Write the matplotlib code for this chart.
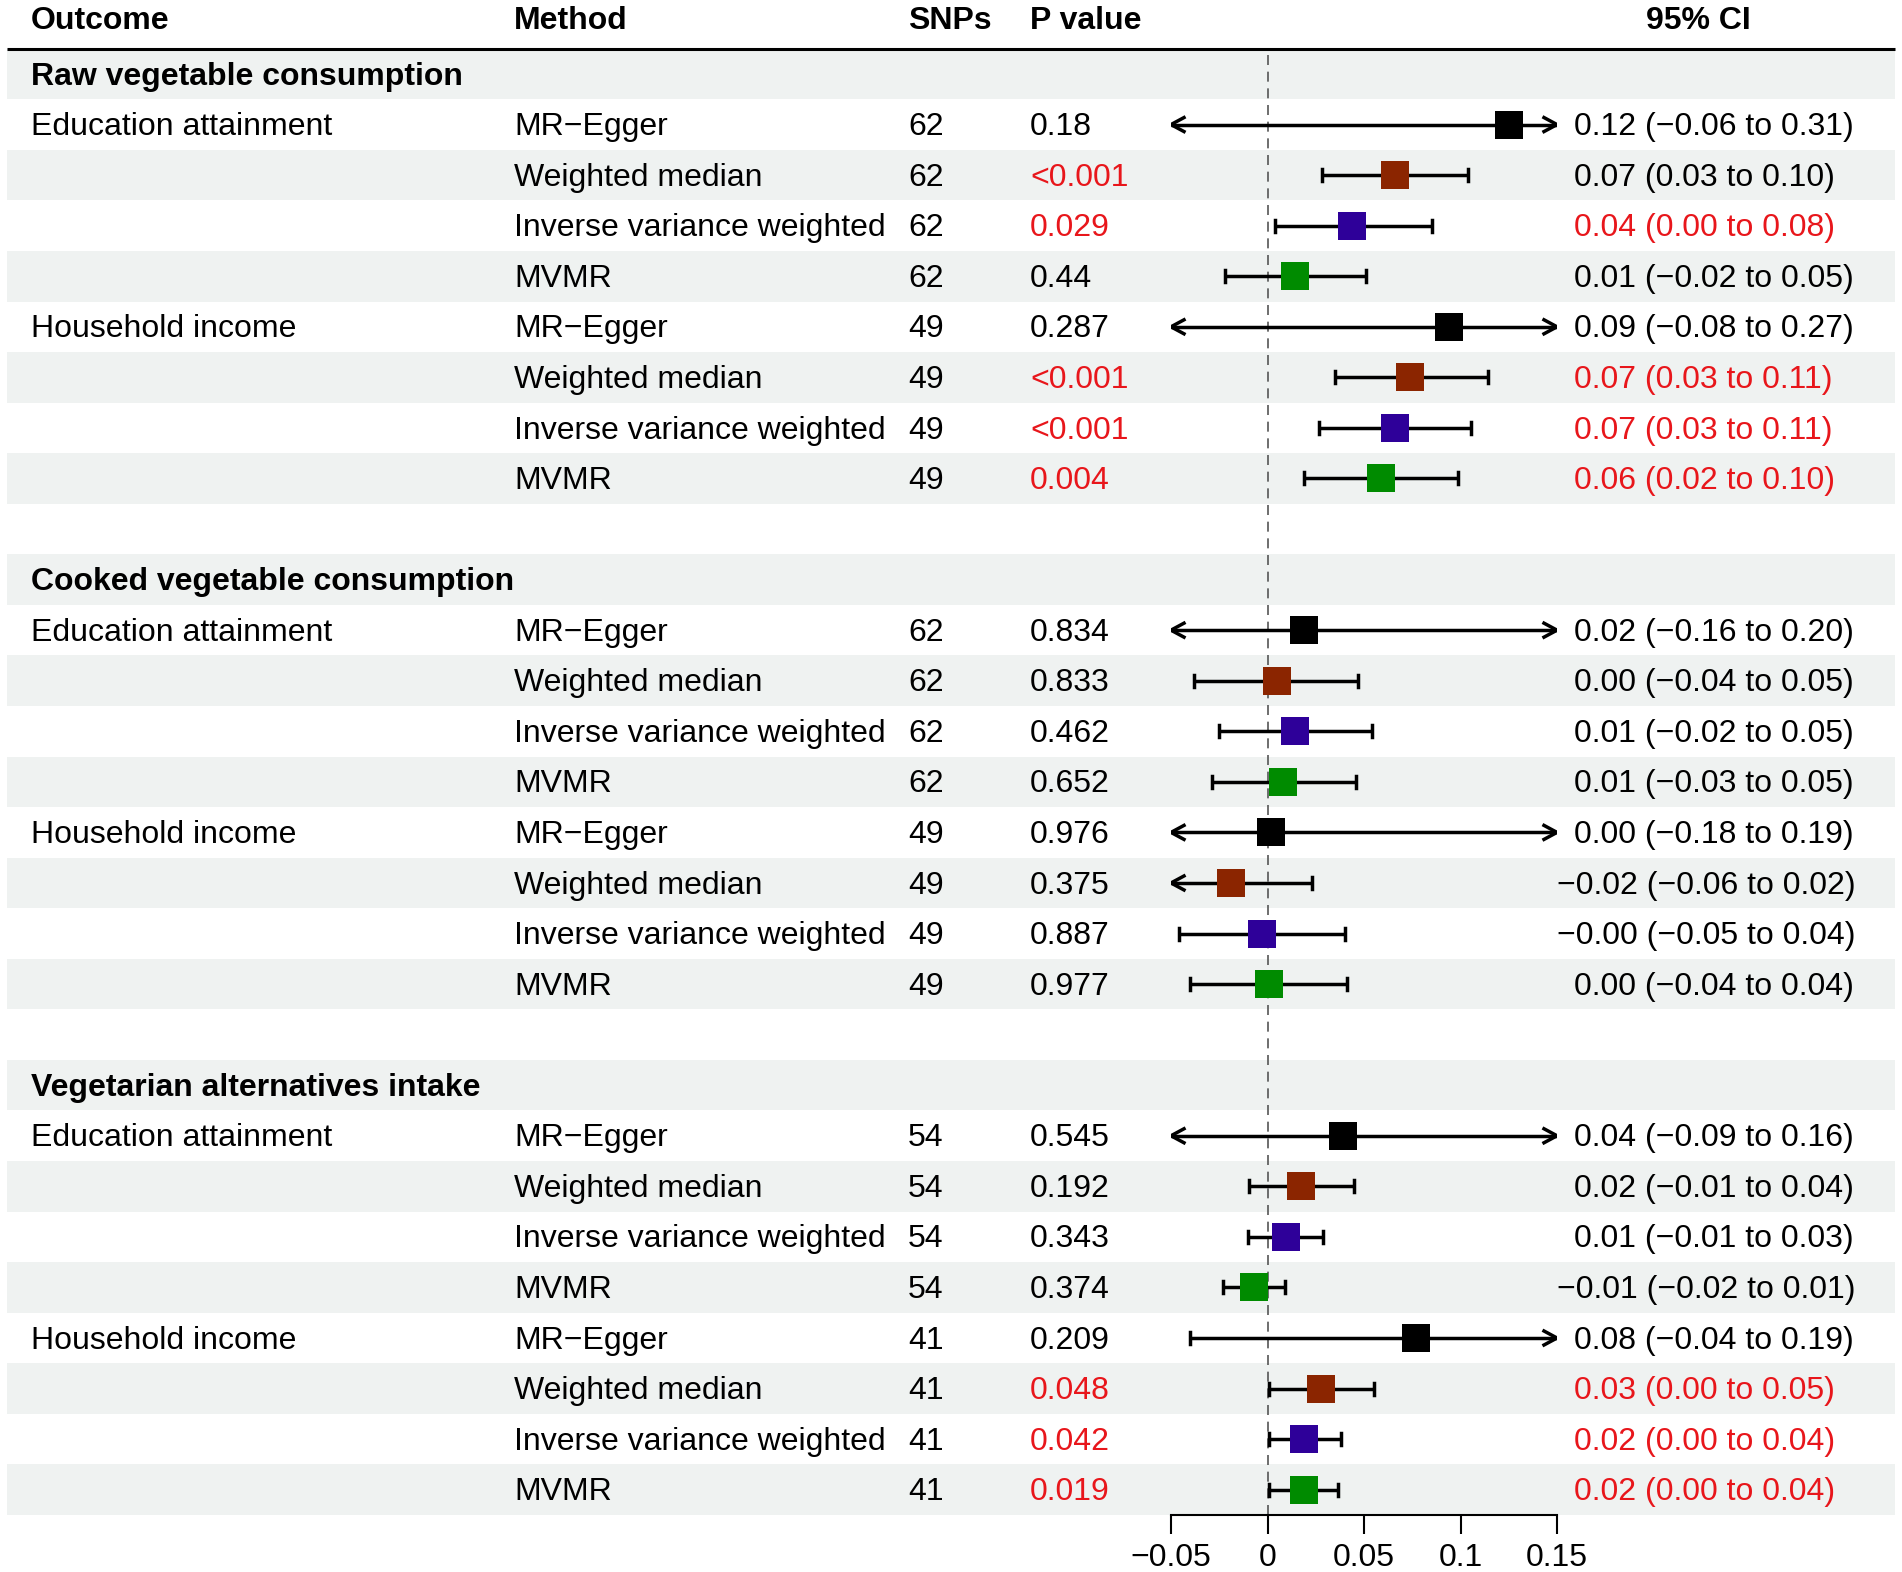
import matplotlib
matplotlib.use("Agg")
import matplotlib.pyplot as plt

plt.rcParams['font.family'] = ['Liberation Sans', 'DejaVu Sans']

# ---- table data ----
groups = ["Raw vegetable consumption", "Cooked vegetable consumption",
          "Vegetarian alternatives intake"]
outcomes = ["Education attainment", "Household income"]
methods = ["MR−Egger", "Weighted median", "Inverse variance weighted", "MVMR"]
method_colors = ["#000000", "#8B2500", "#2E0099", "#008B00"]

snps = [62, 62, 62, 62, 49, 49, 49, 49,
        62, 62, 62, 62, 49, 49, 49, 49,
        54, 54, 54, 54, 41, 41, 41, 41]

p_text = ["0.18", "<0.001", "0.029", "0.44", "0.287", "<0.001", "<0.001", "0.004",
          "0.834", "0.833", "0.462", "0.652", "0.976", "0.375", "0.887", "0.977",
          "0.545", "0.192", "0.343", "0.374", "0.209", "0.048", "0.042", "0.019"]
p_red = [0, 1, 1, 0, 0, 1, 1, 1,
         0, 0, 0, 0, 0, 0, 0, 0,
         0, 0, 0, 0, 0, 1, 1, 1]

ci_text = ["0.12 (−0.06 to 0.31)", "0.07 (0.03 to 0.10)", "0.04 (0.00 to 0.08)",
           "0.01 (−0.02 to 0.05)", "0.09 (−0.08 to 0.27)", "0.07 (0.03 to 0.11)",
           "0.07 (0.03 to 0.11)", "0.06 (0.02 to 0.10)",
           "0.02 (−0.16 to 0.20)", "0.00 (−0.04 to 0.05)", "0.01 (−0.02 to 0.05)",
           "0.01 (−0.03 to 0.05)", "0.00 (−0.18 to 0.19)", "−0.02 (−0.06 to 0.02)",
           "−0.00 (−0.05 to 0.04)", "0.00 (−0.04 to 0.04)",
           "0.04 (−0.09 to 0.16)", "0.02 (−0.01 to 0.04)", "0.01 (−0.01 to 0.03)",
           "−0.01 (−0.02 to 0.01)", "0.08 (−0.04 to 0.19)", "0.03 (0.00 to 0.05)",
           "0.02 (0.00 to 0.04)", "0.02 (0.00 to 0.04)"]
ci_red = [0, 0, 1, 0, 0, 1, 1, 1,
          0, 0, 0, 0, 0, 0, 0, 0,
          0, 0, 0, 0, 0, 1, 1, 1]

# point estimates and intervals as drawn
est = [0.125, 0.066, 0.044, 0.0145, 0.094, 0.074, 0.066, 0.0588,
       0.019, 0.005, 0.0145, 0.008, 0.002, -0.019, -0.003, 0.0006,
       0.039, 0.0176, 0.0094, -0.007, 0.077, 0.0277, 0.019, 0.019]
lo = [-0.06, 0.028, 0.004, -0.022, -0.08, 0.035, 0.0267, 0.019,
      -0.16, -0.038, -0.025, -0.029, -0.18, -0.06, -0.046, -0.040,
      -0.09, -0.0094, -0.010, -0.023, -0.040, 0.0006, 0.0006, 0.0006]
hi = [0.31, 0.104, 0.085, 0.051, 0.27, 0.114, 0.1056, 0.0986,
      0.20, 0.047, 0.054, 0.046, 0.19, 0.023, 0.040, 0.041,
      0.16, 0.0447, 0.029, 0.009, 0.19, 0.055, 0.038, 0.0365]

xticks = [-0.05, 0, 0.05, 0.1, 0.15]
xtick_labels = ["−0.05", "0", "0.05", "0.1", "0.15"]

# ---- layout (pixels) ----
W, H = 1902, 1572
row0, pitch = 74.0, 50.56
nrows = 29
band = "#EFF2F1"
red = "#E8161B"
fs = 23

fig = plt.figure(figsize=(W / 100, H / 100), dpi=100)

# background / table axes: x in pixels, y in row units
bg = fig.add_axes([0, 0, 1, 1])
bg.set_xlim(0, W)
bg.set_ylim((H - row0) / pitch, -row0 / pitch)
bg.axis("off")

for r in range(0, nrows, 2):
    bg.axhspan(r - 0.5, r + 0.5, xmin=7 / W, xmax=1895 / W, color=band, lw=0, zorder=0)

bg.plot([7, 1895], [-0.5, -0.5], color="black", lw=2.2, solid_capstyle="butt")

hy = (29 - row0) / pitch
bg.text(31, hy, "Outcome", fontsize=fs, fontweight="bold", va="baseline")
bg.text(514, hy, "Method", fontsize=fs, fontweight="bold", va="baseline")
bg.text(908, hy, "SNPs", fontsize=fs, fontweight="bold", va="baseline")
bg.text(1030, hy, "P value", fontsize=fs, fontweight="bold", va="baseline")
bg.text(1698, hy, "95% CI", fontsize=fs, fontweight="bold", va="baseline", ha="center")

base = 0.21  # baseline offset below row centre (rows)
rows = []
for g, name in enumerate(groups):
    bg.text(31, g * 10 + base, name, fontsize=fs, fontweight="bold", va="baseline")
    for k in range(8):
        rows.append(g * 10 + 1 + k)
    for j, oc in enumerate(outcomes):
        bg.text(31, g * 10 + 1 + 4 * j + base, oc, fontsize=fs, va="baseline")

for i, r in enumerate(rows):
    y = r + base
    bg.text(514, y, methods[i % 4], fontsize=fs, va="baseline")
    bg.text(908, y, str(snps[i]), fontsize=fs, va="baseline")
    bg.text(1030, y, p_text[i], fontsize=fs, va="baseline",
            color=red if p_red[i] else "black")
    cx = 1557 if ci_text[i].startswith("−") else 1574
    bg.text(cx, y, ci_text[i], fontsize=fs, va="baseline",
            color=red if ci_red[i] else "black")

# ---- forest axes ----
x0, x1 = 1171, 1557
top, bottom = row0 - 0.5 * pitch, row0 + 28.5 * pitch
ax = fig.add_axes([x0 / W, 1 - bottom / H, (x1 - x0) / W, (bottom - top) / H])
ax.patch.set_visible(False)
xmin, xmax = -0.05, 0.15
ax.set_xlim(xmin, xmax)
ax.set_ylim(nrows - 0.5, -0.5)
for s in ["top", "left", "right"]:
    ax.spines[s].set_visible(False)
ax.spines["bottom"].set_linewidth(1.5)
ax.set_yticks([])
ax.set_xticks(xticks)
ax.set_xticklabels(xtick_labels, fontsize=fs)
ax.tick_params(axis="x", length=14, width=1.5, pad=6)

ax.axvline(0, color="#555555", lw=1.2, ls=(0, (6, 4)), zorder=1)

dx = 13 / ((x1 - x0) / (xmax - xmin))
dy = 7 / pitch
cap = 6 / pitch
lw = 2.5
for i, r in enumerate(rows):
    lc, hc = max(lo[i], xmin), min(hi[i], xmax)
    ax.plot([lc, hc], [r, r], color="black", lw=lw, solid_capstyle="butt", zorder=2)
    for end, val, sgn in ((lc, lo[i], -1), (hc, hi[i], 1)):
        if (sgn < 0 and val < xmin) or (sgn > 0 and val > xmax):
            ax.plot([end - sgn * dx, end, end - sgn * dx], [r - dy, r, r + dy],
                    color="black", lw=lw, solid_joinstyle="miter", zorder=2)
        else:
            ax.plot([end, end], [r - cap, r + cap], color="black", lw=lw, zorder=2)
    ax.plot(est[i], r, marker="s", ms=20.2, color=method_colors[i % 4],
            mec=method_colors[i % 4], mew=0, zorder=3)

fig.savefig("out.png", dpi=100)
